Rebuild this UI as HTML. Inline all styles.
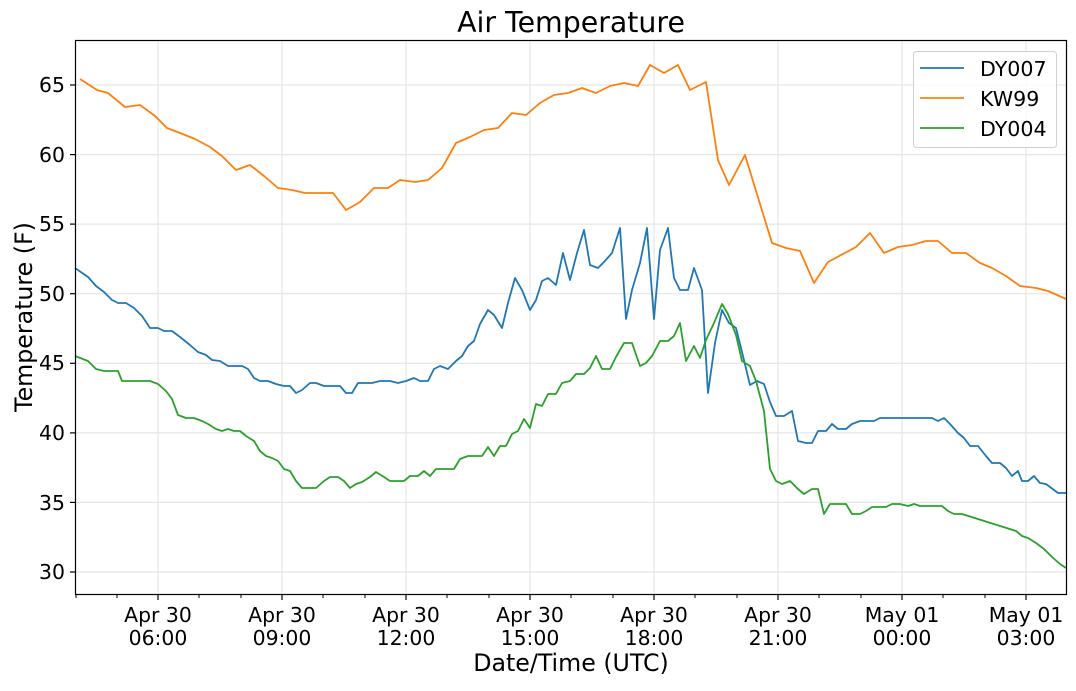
<!DOCTYPE html>
<html><head><meta charset="utf-8"><style>
body{margin:0;background:#fff;}
svg text{font-family:"DejaVu Sans","Liberation Sans",sans-serif;fill:#000;}
</style></head><body>
<svg width="1076" height="686" viewBox="0 0 1076 686" xmlns="http://www.w3.org/2000/svg">
<rect width="1076" height="686" fill="#fff"/>
<g stroke="#e6e6e6" stroke-width="1.2">
<line x1="75.5" x2="1066.5" y1="85" y2="85"/><line x1="75.5" x2="1066.5" y1="154.6" y2="154.6"/><line x1="75.5" x2="1066.5" y1="224.1" y2="224.1"/><line x1="75.5" x2="1066.5" y1="293.7" y2="293.7"/><line x1="75.5" x2="1066.5" y1="363.3" y2="363.3"/><line x1="75.5" x2="1066.5" y1="432.9" y2="432.9"/><line x1="75.5" x2="1066.5" y1="502.4" y2="502.4"/><line x1="75.5" x2="1066.5" y1="572" y2="572"/>
<line y1="40.5" y2="594.5" x1="158" x2="158"/><line y1="40.5" y2="594.5" x1="282" x2="282"/><line y1="40.5" y2="594.5" x1="406" x2="406"/><line y1="40.5" y2="594.5" x1="530" x2="530"/><line y1="40.5" y2="594.5" x1="654" x2="654"/><line y1="40.5" y2="594.5" x1="778" x2="778"/><line y1="40.5" y2="594.5" x1="902" x2="902"/><line y1="40.5" y2="594.5" x1="1026" x2="1026"/>
</g>
<g fill="none" stroke-width="1.8" stroke-linejoin="round">
<polyline stroke="#ff7f0e" points="80,79 97,90 108,93 125,107 140,105 155,116 167,128 180,133 195,139 210,147 222,156 236,170 250,165 264,176 278,188 292,190 305,193 333,193 346,210 360,202 374,188 388,188 400,180 415,182 428,180 442,168 456,143 470,137 484,130 498,128 512,113 526,115 540,103 554,95 568,93 582,88 596,93 610,86 624,83 638,86 650,65 664,73 678,65 690,90 706,82 718,160 729,185 745,155 772,243 786,248 800,251 814,283 828,262 856,247 870,233 884,253 898,247 912,245 926,241 938,241 952,253 966,253 980,263 992,268 1006,276 1020,286 1036,288 1048,291 1066,299"/>
<polyline stroke="#1f77b4" points="75,268 88,277 96,286 104,292 112,300 118,303 126,303 134,308 142,316 150,328 158,328 164,331 172,331 180,337 190,345 198,352 206,355 212,360 220,361 228,366 236,366 242,366 248,369 254,378 260,381 268,381 276,384 284,386 290,386 296,393 302,390 310,383 316,383 324,386 334,386 340,386 346,393 352,393 358,383 372,383 380,381 390,381 398,383 406,381 414,378 420,381 428,381 434,369 440,366 448,369 456,361 462,356 468,346 474,341 480,324 488,310 494,315 502,328 508,303 515,278 522,290 530,310 536,300 542,281 548,278 556,285 563,253 570,280 577,253 584,230 590,265 598,268 604,262 612,253 620,228 626,319 632,290 640,263 647,228 654,319 660,250 668,228 674,278 680,290 688,290 694,268 702,290 708,393 715,343 722,310 729,323 736,328 742,352 750,385 757,381 764,384 770,402 776,416 784,416 792,411 798,441 806,443 812,443 818,431 826,431 832,424 838,429 846,429 852,424 860,421 874,421 880,418 932,418 938,421 944,418 950,424 958,433 964,438 970,446 978,446 986,456 992,463 1000,463 1006,468 1012,476 1018,471 1022,481 1028,481 1034,476 1040,483 1046,484 1058,493 1066,493"/>
<polyline stroke="#2ca02c" points="75,356 88,361 96,369 104,371 118,371 122,381 150,381 158,384 166,391 172,399 178,415 186,418 194,418 202,421 208,424 216,429 222,431 228,429 234,431 240,431 246,436 254,441 260,451 266,456 272,458 278,461 284,469 290,471 296,481 302,488 316,488 324,481 330,477 338,477 344,481 350,488 356,484 362,482 370,477 376,472 384,477 390,481 404,481 410,476 418,476 424,471 430,476 436,469 442,469 454,469 460,459 468,456 482,456 488,447 494,456 500,446 506,446 512,434 518,431 524,419 530,428 536,404 542,406 548,394 556,394 562,383 570,381 576,374 584,374 590,368 596,356 602,369 610,369 616,357 624,343 632,343 640,366 646,363 652,356 660,341 668,341 674,336 680,323 686,361 694,346 700,358 706,340 714,323 722,304 728,314 736,335 742,361 750,366 756,381 764,411 770,469 776,481 782,484 790,481 798,489 804,494 812,489 818,489 824,514 830,504 846,504 852,514 860,514 866,511 872,507 886,507 892,504 900,504 908,506 914,504 920,506 942,506 948,511 954,514 962,514 1016,531 1022,536 1028,538 1036,543 1044,549 1052,557 1060,564 1066,568"/>
</g>
<rect x="75.5" y="40.5" width="991" height="554" fill="none" stroke="#000" stroke-width="1.2"/>
<g stroke="#000" stroke-width="1.2">
<line x1="70" x2="75.5" y1="85" y2="85"/><line x1="70" x2="75.5" y1="154.6" y2="154.6"/><line x1="70" x2="75.5" y1="224.1" y2="224.1"/><line x1="70" x2="75.5" y1="293.7" y2="293.7"/><line x1="70" x2="75.5" y1="363.3" y2="363.3"/><line x1="70" x2="75.5" y1="432.9" y2="432.9"/><line x1="70" x2="75.5" y1="502.4" y2="502.4"/><line x1="70" x2="75.5" y1="572" y2="572"/>
<line y1="594.5" y2="600" x1="158" x2="158"/><line y1="594.5" y2="600" x1="282" x2="282"/><line y1="594.5" y2="600" x1="406" x2="406"/><line y1="594.5" y2="600" x1="530" x2="530"/><line y1="594.5" y2="600" x1="654" x2="654"/><line y1="594.5" y2="600" x1="778" x2="778"/><line y1="594.5" y2="600" x1="902" x2="902"/><line y1="594.5" y2="600" x1="1026" x2="1026"/>
</g>
<g stroke="#000" stroke-width="1">
<line y1="594.5" y2="598" x1="76" x2="76"/><line y1="594.5" y2="598" x1="117" x2="117"/><line y1="594.5" y2="598" x1="199" x2="199"/><line y1="594.5" y2="598" x1="241" x2="241"/><line y1="594.5" y2="598" x1="323" x2="323"/><line y1="594.5" y2="598" x1="365" x2="365"/><line y1="594.5" y2="598" x1="447" x2="447"/><line y1="594.5" y2="598" x1="489" x2="489"/><line y1="594.5" y2="598" x1="571" x2="571"/><line y1="594.5" y2="598" x1="613" x2="613"/><line y1="594.5" y2="598" x1="695" x2="695"/><line y1="594.5" y2="598" x1="737" x2="737"/><line y1="594.5" y2="598" x1="819" x2="819"/><line y1="594.5" y2="598" x1="861" x2="861"/><line y1="594.5" y2="598" x1="943" x2="943"/><line y1="594.5" y2="598" x1="985" x2="985"/>
</g>
<g font-size="20.4" text-anchor="end">
<text x="65" y="92">65</text><text x="65" y="162">60</text><text x="65" y="231">55</text><text x="65" y="301">50</text><text x="65" y="370">45</text><text x="65" y="440">40</text><text x="65" y="510">35</text><text x="65" y="579">30</text>
</g>
<g font-size="20.4" text-anchor="middle">
<text x="158" y="622">Apr 30</text><text x="158" y="645">06:00</text>
<text x="282" y="622">Apr 30</text><text x="282" y="645">09:00</text>
<text x="406" y="622">Apr 30</text><text x="406" y="645">12:00</text>
<text x="530" y="622">Apr 30</text><text x="530" y="645">15:00</text>
<text x="654" y="622">Apr 30</text><text x="654" y="645">18:00</text>
<text x="778" y="622">Apr 30</text><text x="778" y="645">21:00</text>
<text x="902" y="622">May 01</text><text x="902" y="645">00:00</text>
<text x="1026" y="622">May 01</text><text x="1026" y="645">03:00</text>
<text x="571" y="671" font-size="23.7">Date/Time (UTC)</text>
<text x="571" y="32" font-size="28.4">Air Temperature</text>
<text transform="translate(32,317) rotate(-90)" font-size="23.7">Temperature (F)</text>
</g>
<rect x="913.5" y="51.5" width="143" height="96" rx="3" fill="#fff" fill-opacity="0.8" stroke="#d0d0d0"/>
<g stroke-width="1.8"><line x1="920" x2="964" y1="68" y2="68" stroke="#1f77b4"/><line x1="920" x2="964" y1="98" y2="98" stroke="#ff7f0e"/><line x1="920" x2="964" y1="128" y2="128" stroke="#2ca02c"/></g>
<g font-size="20.6"><text x="980" y="76">DY007</text><text x="980" y="106">KW99</text><text x="980" y="136">DY004</text></g>
</svg>
</body></html>
